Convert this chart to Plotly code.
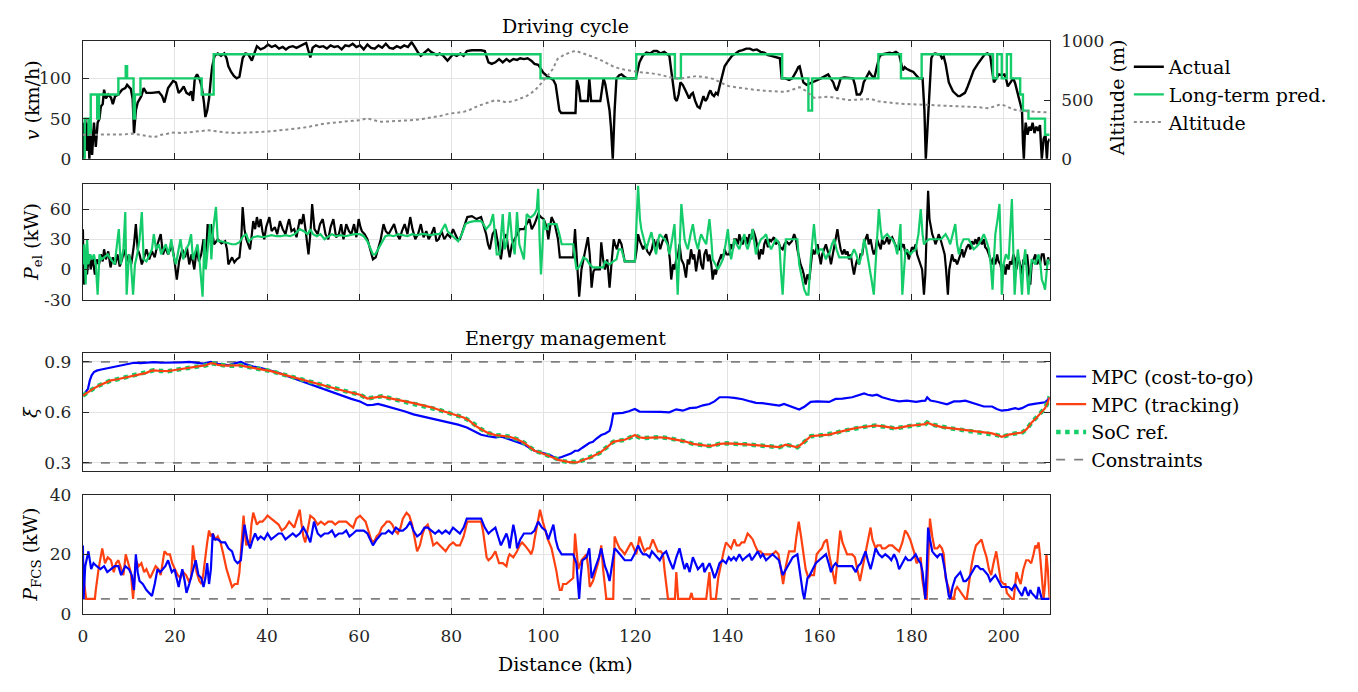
import plotly.graph_objects as go

# ---------------- DATA ----------------
v_act_km = [0,0.2,0.5,0.8,1.1,1.4,1.7,2.0,2.4,2.8,3.2,3.6,3.9,4.3,4.6,5.0,5.5,6.1,6.5,7.0,7.7,8.5,9.2,9.6,10.4,10.8,11.1,11.5,11.9,12.7,13.2,13.8,15.0,16.5,17.2,17.7,18.5,19.6,20.2,20.8,21.3,21.9,22.5,23.1,23.5,23.9,24.3,24.8,25.4,25.8,26.3,26.6,27.0,27.4,27.8,28.1,28.6,29.3,30.0,30.7,31.2,31.6,32.2,32.8,33.4,34.0,34.7,35.3,35.9,36.7,37.3,37.8,38.6,39.4,40.2,41.0,41.8,42.6,43.4,44.1,44.8,45.6,46.4,47.2,48.0,48.5,49.0,49.4,49.9,50.6,51.4,52.2,53.0,53.8,54.6,55.4,56.2,57.0,57.8,58.6,59.4,60.2,61.0,61.8,62.6,63.4,64.2,65.0,65.8,66.6,67.4,68.2,69.0,69.8,70.6,71.4,72.2,72.8,73.4,74.2,75.0,75.6,76.3,76.9,77.5,78.3,79.2,79.8,80.4,81.2,82.0,82.7,83.4,84.5,85.5,86.5,87.3,87.7,88.1,88.8,89.6,90.4,91.2,92.0,92.7,93.5,94.3,95.0,95.8,96.6,97.4,98.1,98.9,99.7,100,100.8,101.5,102.2,102.7,103.2,103.5,103.9,107.0,107.3,107.7,108.1,109.7,110.0,110.4,112.4,113.1,113.5,113.9,114.4,114.7,115.1,115.5,115.9,116.5,117.0,117.6,118.2,120.1,120.9,121.6,122.4,123.2,124.0,124.7,125.5,126.3,127.0,127.4,127.8,128.3,128.6,129.0,129.4,129.8,130.3,130.9,131.3,131.7,132.1,132.5,133.0,133.5,134.0,134.4,134.8,135.2,135.6,136.0,136.3,136.7,137.1,137.5,137.9,138.3,138.7,139.0,139.4,140.2,141.0,141.8,142.5,143.3,144.1,144.9,145.6,146.4,147.2,148.0,148.8,149.5,150.3,151.0,151.4,151.8,152.6,153.4,154.1,154.9,155.4,155.7,156.1,156.5,157.2,158.0,158.8,159.6,160.3,161.1,161.9,162.4,163.0,163.4,163.8,164.2,164.6,165.4,166.5,167.3,167.7,168.1,168.8,169.2,169.6,170.2,170.8,171.3,171.9,172.5,173.1,173.8,174.5,175.2,175.9,176.6,177.3,177.7,178.1,178.5,178.9,179.6,180.4,181.0,181.6,182.4,182.8,183.1,183.5,183.9,184.3,184.7,185.1,185.7,186.2,186.6,187.0,187.4,187.8,188.1,188.5,189.0,189.7,190.1,190.5,191.0,191.6,192.2,192.8,193.5,194.4,195.2,195.9,196.5,197.1,197.5,197.9,198.4,199.0,199.6,200.2,200.6,200.9,201.5,202.1,202.5,202.9,203.5,204.0,204.2,204.4,204.6,204.8,205.2,205.6,205.9,206.3,206.7,207.1,207.5,207.9,208.1,208.3,208.7,209.1,209.3,209.4,209.6,210]
v_act = [45,0,50,10,45,0,40,5,45,15,45,50,65,68,86,75,80,76,68,78,80,86,88,92,87,75,32,60,70,78,88,82,82,83,78,70,88,97,95,82,85,90,82,80,84,72,100,105,98,90,70,52,60,75,100,115,128,131,128,131,125,115,108,103,100,102,125,131,130,122,132,140,136,138,142,139,141,137,139,136,139,140,138,140,143,144,134,126,138,141,139,140,137,141,139,140,136,141,140,143,139,141,136,142,138,137,141,138,143,138,137,140,138,141,139,145,138,132,128,132,136,133,131,129,131,128,122,126,130,128,131,128,134,135,135,135,134,126,120,118,120,124,120,124,121,124,123,125,124,125,122,118,117,110,107,103,100,98,92,75,60,57,57,98,90,72,72,100,72,72,100,92,80,60,40,0,60,100,104,105,102,100,100,120,128,132,131,134,134,131,133,130,128,110,85,75,72,80,95,92,85,80,75,80,82,72,65,63,70,78,72,75,82,85,80,78,82,80,90,100,108,115,122,128,131,134,135,137,137,135,136,133,132,129,128,127,126,125,100,100,98,100,108,114,115,105,95,92,94,95,98,100,103,105,100,95,88,85,92,100,101,100,100,92,80,80,84,95,102,108,104,100,115,128,130,131,132,131,133,130,120,110,114,112,110,108,104,100,100,60,0,40,90,125,130,131,130,130,125,127,118,105,95,90,84,80,78,78,80,82,90,100,110,118,125,130,131,128,110,95,100,105,104,105,98,90,95,100,94,85,75,60,20,0,30,45,30,40,35,45,32,40,35,42,20,0,25,30,10,0,20,25]

v_pred_km = [0,0.4,1.2,1.7,3.1,3.5,7.7,9.3,9.6,11.0,11.3,12.5,25.8,28.4,99.4,120.2,128.6,129.9,151.9,157.6,158.4,172.8,177.7,182.2,197.7,198.6,199.6,200.7,201.6,203.6,204.2,205.4,209.0,210]
v_pred = [0,50,30,80,50,80,100,115,100,50,80,100,80,130,100,130,100,130,100,60,100,130,100,130,100,130,100,130,100,80,60,50,30,30]

alt_km = [0,3,6,9,11,12.3,13.5,15.4,16.5,17.0,18.2,19.3,20.5,21.6,23.0,24.7,26.0,27.0,28.2,29.3,31.0,33.2,35.0,37.0,39.0,40.9,43.0,44.8,46.8,48.6,50.5,52.5,54.5,56.4,58.3,60.2,61.8,63.0,64.9,66.5,68.0,70.0,71.8,73.8,75.7,77.6,79.6,81.2,82.7,84.2,85.8,87.7,89.6,91.0,92.0,93.5,95.0,96.2,97.4,98.6,99.7,101.0,102.0,103.1,104.5,105.8,107.0,108.5,110.0,112.0,113.8,115.5,117.5,120.1,121.5,123.2,125.5,127.5,129.4,131.0,133.3,135.0,137.1,138.5,140.2,141.8,143.3,145.5,148.0,150.0,152.6,154.2,155.7,157.0,158.8,160.3,161.9,164.0,166.5,168.8,171.2,172.7,175.0,177.3,180.0,183.5,186.0,188.9,191.5,194.4,196.7,198.0,199.4,200.8,202.1,204.0,206.0,208.0,210]
alt = [205,205,205,208,215,205,198,185,195,205,212,225,222,220,226,230,238,245,238,230,225,220,222,225,230,235,242,250,260,270,285,300,308,315,322,330,345,330,315,317,320,325,330,340,350,365,385,393,400,420,450,475,500,490,480,492,510,530,560,600,650,710,760,850,885,905,920,900,880,850,815,780,760,740,735,730,715,695,680,690,705,695,680,650,620,610,600,590,580,575,570,590,610,580,520,525,530,515,500,505,510,490,480,470,465,460,455,450,445,440,430,445,465,445,420,408,400,398,395]

pel_act_km = [0,0.2,0.5,0.9,1.3,1.7,2.1,2.6,3.0,3.5,3.9,4.3,4.6,5.0,5.5,6.0,6.5,7.0,7.5,8.0,8.5,9.0,9.5,10.0,10.5,11.1,11.5,11.9,12.3,12.8,13.3,13.8,14.4,15.0,15.6,16.2,16.9,17.4,17.9,18.5,19.0,19.3,19.8,20.4,20.9,21.6,22.2,22.6,23.1,23.6,24.2,24.7,25.2,25.7,26.2,26.7,27.1,27.5,27.8,28.1,28.5,29.3,30.1,30.9,31.3,31.6,32.0,32.4,32.9,33.4,34.0,34.4,34.7,35.1,35.5,35.9,36.3,36.7,37.0,37.4,37.8,38.2,38.6,39.0,39.4,39.8,40.5,41.0,41.7,42.2,42.8,43.4,44.0,44.5,44.8,45.3,45.9,46.4,47.1,47.5,47.9,48.4,49.0,49.4,49.8,50.3,51.0,51.5,52.1,52.7,53.3,53.8,54.4,55.0,55.6,56.1,56.6,57.2,57.8,58.3,58.9,59.4,59.9,60.3,60.6,61.2,61.8,62.4,63.0,63.6,64.1,64.7,65.3,65.8,66.4,67.0,67.6,68.2,68.8,69.3,69.9,70.5,71.1,71.6,72.2,72.8,73.4,74.0,74.6,75.1,75.7,76.3,76.8,77.3,77.9,78.5,79.2,79.8,80.4,80.9,81.4,81.9,82.5,83.0,83.5,84.5,85.5,86.5,87.0,87.6,88.0,88.4,89.0,89.6,90.2,90.8,91.4,92.0,92.4,92.7,93.2,93.8,94.3,94.9,95.8,96.4,97.0,97.5,98.1,98.5,98.9,99.5,100.1,100.5,100.8,101.1,101.5,101.8,102.5,102.9,103.2,103.6,104.3,106.5,106.9,107.3,107.8,108.3,108.7,109.2,109.7,110.1,110.5,110.9,111.2,112.3,112.6,113.0,113.4,113.9,114.4,114.9,115.3,115.6,116.0,116.5,117.0,117.4,117.7,118.8,119.9,120.3,120.6,121.0,121.3,121.7,122.2,122.6,123.1,123.6,124.0,124.5,124.9,125.4,125.9,126.3,126.7,127.1,127.5,127.8,128.2,128.5,128.9,129.3,129.6,130.0,130.5,131.0,131.4,131.7,132.1,132.5,132.8,133.2,133.6,133.9,134.3,134.7,135.0,135.4,135.8,136.1,136.5,136.8,137.2,137.5,137.9,138.3,138.7,139.0,139.4,139.8,140.4,140.8,141.2,141.5,141.9,142.3,142.6,143.0,143.3,143.7,144.1,144.4,144.8,145.2,145.5,145.9,146.2,146.6,146.9,147.3,147.7,148.0,148.4,148.8,149.1,149.5,150.1,150.5,151.0,151.5,152.0,152.4,152.8,153.4,154.0,154.5,154.9,155.2,155.6,155.9,156.3,156.6,157.0,157.4,157.8,158.1,158.5,158.9,159.2,159.6,159.9,160.3,160.6,161.0,161.4,161.8,162.1,162.5,162.9,163.2,163.5,163.9,164.2,164.6,165.0,165.4,165.7,166.1,166.4,166.8,167.1,167.5,167.9,168.2,168.6,168.9,169.3,169.6,170.0,170.4,170.7,171.1,171.5,171.8,172.2,172.5,172.9,173.3,173.6,174.0,174.4,174.7,175.1,175.4,175.8,176.2,176.5,176.9,177.3,177.6,178.0,178.3,178.7,179.0,179.4,179.8,180.1,180.5,180.9,181.2,181.6,181.9,182.3,182.7,183.0,183.3,183.6,183.9,184.2,184.5,184.9,185.2,185.6,185.9,186.3,186.6,187.0,187.2,187.5,187.9,188.2,188.5,188.8,189.2,189.5,189.9,190.3,190.6,191.0,191.3,191.7,192.0,192.4,192.8,193.1,193.5,193.9,194.2,194.6,194.9,195.3,195.7,196.0,196.4,196.8,197.1,197.5,197.8,198.2,198.6,198.9,199.3,199.6,200.0,200.4,200.7,201.1,201.4,201.8,202.1,202.5,202.8,203.2,203.6,204.0,204.3,204.7,205.1,205.4,205.8,206.1,206.5,206.9,207.2,207.6,207.9,208.3,208.7,209.0,209.4,209.7,210]
pel_act = [40,-15,10,-5,15,0,12,-5,10,5,15,8,20,10,18,2,12,5,15,3,10,20,8,15,5,25,45,20,15,5,12,20,10,18,12,25,35,15,22,15,20,25,12,-10,8,20,12,22,5,15,0,20,8,15,30,10,45,30,45,35,25,30,26,28,20,5,8,12,7,10,12,30,62,40,30,25,20,35,48,40,52,42,50,38,30,42,52,38,42,35,48,40,35,45,50,38,40,32,50,45,55,38,15,35,65,40,35,45,50,35,30,42,50,32,35,45,30,45,38,35,45,32,50,42,38,35,30,20,10,12,20,30,45,38,35,40,45,35,30,38,45,35,52,40,30,35,45,32,38,30,35,42,28,30,38,30,35,32,40,35,30,30,38,45,52,53,50,52,45,35,25,20,35,40,25,10,30,35,20,12,25,30,35,40,40,45,50,40,45,50,55,52,50,45,40,30,42,52,45,38,30,12,12,12,40,10,-27,0,10,20,32,15,-18,-2,0,0,27,10,0,10,-18,10,30,25,20,30,25,15,8,8,8,20,35,28,25,20,25,18,15,20,30,22,30,20,28,32,35,25,10,-10,5,0,10,15,25,10,5,-8,10,5,20,10,15,-2,10,20,5,0,15,20,8,15,5,-10,0,-5,5,10,15,10,20,15,15,25,20,30,30,25,35,28,25,30,32,25,35,30,40,35,30,20,10,20,15,25,30,22,30,28,32,25,28,22,20,25,28,25,28,35,30,20,10,5,0,-5,-15,-5,-10,5,20,15,20,25,15,5,15,20,25,18,15,5,15,20,30,40,30,20,15,20,15,18,10,15,5,-5,5,10,5,15,15,25,30,35,25,30,20,15,20,30,25,20,30,25,28,32,25,30,32,28,25,20,20,28,22,25,15,20,10,18,22,20,25,15,10,5,0,-25,-5,40,78,50,40,35,30,25,30,35,30,25,20,15,0,-25,0,10,15,8,10,5,10,15,20,12,18,22,25,20,28,25,30,25,32,28,25,30,22,20,15,10,5,12,5,15,8,5,-2,5,-5,5,0,8,5,15,10,0,12,5,-5,10,5,15,0,-15,5,10,15,5,10,5,15,15,5,5,12,8]

pel_pred_km = [0,0.3,0.6,0.9,1.2,1.6,2.0,2.4,2.8,3.2,3.6,4.0,4.6,5.4,6.1,6.9,7.4,7.8,8.2,8.8,9.2,9.5,10.0,10.4,10.9,11.3,11.8,12.3,12.8,13.2,13.8,14.5,15.0,15.4,15.9,16.5,17.0,17.5,18.0,18.6,19.2,19.6,20.2,20.8,21.2,21.8,22.4,23.0,23.5,23.9,24.5,24.9,25.4,26.0,26.4,26.7,27.1,27.6,27.9,28.3,28.9,29.3,30.0,30.9,31.6,32.4,33.2,34.0,34.8,35.5,36.0,36.6,37.0,38.0,39.0,40.0,41.0,42.0,43.0,44.0,45.0,46.0,47.1,48.0,48.8,49.4,50.0,50.8,51.6,52.5,53.2,54.1,55.0,56.0,57.0,58.0,59.0,60.2,61.0,61.8,62.5,63.0,63.5,64.1,65.0,65.7,66.5,67.5,68.5,69.5,70.5,71.5,72.5,73.5,74.5,75.5,76.5,77.5,77.9,78.7,79.2,79.9,80.7,81.5,82.3,83.1,84.0,85.0,86.5,87.0,87.6,88.5,89.1,89.5,89.9,90.5,91.2,91.6,92.0,92.7,93.2,93.8,94.3,94.8,95.4,95.8,96.4,97.0,97.4,98.1,98.6,98.9,99.2,99.5,99.8,100.1,100.5,100.9,101.1,101.8,102.9,103.5,104.0,106.5,107.2,107.9,108.7,109.4,110.1,110.8,113.0,113.4,114.4,115.2,115.9,116.4,117.0,117.7,118.4,119.9,120.6,121.0,121.3,122.0,122.4,123.0,123.5,124.0,124.5,125.0,125.3,125.9,126.4,127.0,127.4,128.0,128.5,128.9,129.2,129.6,130.0,130.3,130.7,131.0,131.4,132.0,132.5,133.0,133.6,134.0,134.3,134.8,135.4,135.8,136.1,136.5,136.8,137.4,137.9,138.5,139.0,139.6,140.1,140.5,140.8,141.2,141.5,142.0,142.6,143.1,143.7,144.0,144.4,145.0,145.5,145.9,146.2,146.8,147.3,147.9,148.4,149.0,149.5,150.0,150.5,150.9,151.3,151.6,152.0,152.4,152.7,153.8,155.2,155.6,156.2,156.7,157.2,157.6,158.1,158.5,158.8,159.2,159.6,160.1,160.6,161.0,161.4,161.8,162.1,162.7,163.2,163.7,164.3,166.8,167.5,168.0,168.6,169.2,169.7,170.2,170.8,171.3,171.8,172.4,172.9,173.3,173.6,174.2,174.7,175.2,175.8,176.4,176.9,177.3,177.6,178.0,178.4,178.7,179.2,179.8,180.3,180.9,181.5,182.0,182.4,182.7,183.2,183.8,185.0,186.4,187.4,188.0,188.4,189.0,189.5,189.9,190.3,190.8,191.3,192.4,193.0,193.5,194.0,194.6,195.2,195.7,196.3,196.8,197.2,197.6,197.9,198.2,198.7,199.1,199.4,199.6,200.0,200.5,201.1,201.5,201.8,202.1,202.4,202.8,203.1,203.6,204.0,204.3,204.7,205.0,205.4,205.8,206.1,206.5,206.9,207.2,207.6,208.0,208.3,208.7,209.0,209.3,209.6,210]
pel_pred = [5,25,-15,30,5,15,10,15,5,-25,15,10,12,15,10,5,25,40,5,20,57,-25,15,8,-25,5,15,30,57,10,8,15,20,35,20,25,15,20,25,15,30,15,5,20,30,10,20,25,35,10,20,25,5,-27,30,0,20,45,10,40,62,28,28,27,26,25,25,27,33,35,28,30,32,33,32,33,34,33,33,34,33,35,40,38,35,40,35,33,35,30,32,35,33,34,33,34,35,35,33,28,20,15,15,20,28,33,34,33,35,34,33,35,34,35,35,34,35,35,38,45,38,35,32,28,35,45,47,48,48,45,40,45,55,30,15,15,55,20,25,57,30,15,57,25,15,10,55,52,52,55,60,80,30,-5,20,50,40,40,45,45,45,35,25,25,0,3,12,10,5,2,2,8,5,8,10,20,20,8,8,8,83,50,40,25,20,30,37,25,15,30,35,32,30,25,15,30,45,10,-25,20,65,50,30,25,20,35,45,30,20,30,35,30,25,40,50,30,10,5,0,5,10,25,40,20,10,20,30,25,20,28,35,25,20,30,40,25,15,25,30,32,35,25,20,25,30,28,25,0,-25,10,30,30,30,5,-10,-20,-25,-25,10,30,45,25,15,20,20,15,10,15,15,25,30,20,12,12,20,15,5,15,30,20,5,-10,-25,20,60,40,30,33,35,32,30,25,15,30,45,-25,5,20,18,15,18,20,35,60,35,25,28,30,30,30,35,30,25,35,45,25,15,25,30,30,25,20,22,25,30,35,28,20,5,-20,10,35,50,65,20,-25,5,15,10,40,70,20,-25,5,20,0,-25,5,20,0,-25,-5,10,8,5,10,15,5,-10,-15,-20,-5,10,5]

xi_cg_km = [0,0.6,1.1,1.5,1.9,2.4,3.0,4.0,5.3,6.5,7.7,9.0,10.0,11.1,12.5,14.0,15.4,17.0,18.5,20.0,21.5,23.1,24.5,26.2,27.8,29.3,30.5,31.6,32.8,34.3,35.5,37.0,38.5,40.1,42.5,44.8,46.5,48.6,50.5,52.5,54.5,56.4,58.3,60.2,61.8,63.0,64.1,65.5,68.0,70.0,71.8,73.5,75.7,77.5,79.6,81.5,83.4,85.0,86.5,88.0,89.6,91.0,92.7,94.0,95.8,97.0,98.1,99.3,100.5,101.4,102.0,103.0,104.0,105.1,106.0,106.9,107.6,108.5,109.4,110.0,110.8,111.5,112.6,113.5,114.4,114.8,115.2,116.0,117.3,118.6,119.9,120.9,122.0,123.8,125.5,127.4,128.2,128.9,130.3,131.8,133.2,134.7,136.1,137.2,138.3,139.2,140.1,141.5,143.3,145.0,146.2,147.5,149.1,151.3,152.3,154.0,155.6,156.8,158.1,159.5,161.0,162.1,163.5,165.0,167.1,168.5,169.7,170.5,171.5,172.5,173.6,175.5,177.3,179.0,181.0,182.3,183.0,183.4,184.1,185.5,186.7,187.7,189.2,190.5,191.7,193.0,194.5,195.7,197.5,198.5,199.6,201.0,202.5,203.2,204.0,205.4,207.0,208.3,209.0,209.6,210.0]
xi_cg = [0.70,0.72,0.74,0.79,0.82,0.84,0.848,0.855,0.862,0.868,0.875,0.88,0.885,0.895,0.893,0.897,0.899,0.895,0.896,0.893,0.897,0.9,0.895,0.89,0.9,0.888,0.885,0.88,0.89,0.9,0.885,0.872,0.865,0.854,0.835,0.812,0.795,0.775,0.755,0.735,0.715,0.695,0.68,0.665,0.643,0.645,0.65,0.64,0.623,0.605,0.588,0.578,0.562,0.555,0.542,0.527,0.51,0.49,0.467,0.458,0.452,0.455,0.44,0.43,0.41,0.39,0.372,0.362,0.352,0.348,0.338,0.327,0.335,0.345,0.355,0.372,0.372,0.39,0.408,0.418,0.425,0.443,0.465,0.475,0.49,0.53,0.593,0.593,0.597,0.607,0.62,0.605,0.605,0.605,0.603,0.6,0.608,0.618,0.61,0.625,0.628,0.642,0.65,0.665,0.69,0.692,0.69,0.686,0.678,0.665,0.657,0.655,0.65,0.64,0.65,0.632,0.617,0.635,0.663,0.665,0.663,0.662,0.68,0.682,0.69,0.7,0.712,0.705,0.7,0.705,0.69,0.675,0.665,0.67,0.663,0.668,0.67,0.69,0.67,0.663,0.655,0.648,0.665,0.665,0.67,0.66,0.648,0.635,0.635,0.62,0.61,0.615,0.625,0.62,0.625,0.645,0.652,0.655,0.66,0.675,0.69]

xi_tr_km = [0,1.0,2.2,3.5,4.8,6.1,7.5,8.8,10.0,11.3,12.5,13.8,14.6,15.4,17.0,18.5,20.0,21.6,23.5,25.4,26.8,27.8,28.5,29.3,31.0,32.5,34.0,35.5,37.0,39.0,40.9,42.8,44.8,46.7,48.6,50.5,52.5,54.5,56.4,58.3,60.2,61.8,63.5,64.9,66.5,68.0,70.0,71.8,73.8,75.7,77.6,79.6,81.2,82.7,84.0,85.3,86.5,88.0,89.6,91.2,92.7,94.3,95.8,97.0,98.1,99.3,100.5,101.4,102.2,103.2,104.3,105.4,106.5,107.6,108.8,110.1,111.2,112.3,113.7,115.2,116.5,117.7,118.8,119.9,120.8,121.7,123.5,125.3,127.1,128.9,130.7,132.5,134.3,136.1,137.2,138.3,140.1,141.9,144.0,146.2,148.7,151.3,152.7,154.0,155.2,156.5,158.1,160.0,162.1,163.5,165.0,166.8,168.6,170.4,172.2,174.3,176.5,178.0,179.4,181.2,183.0,183.4,184.5,186.6,188.5,190.3,192.1,193.9,195.7,197.5,198.6,199.6,201.1,202.5,204.0,205.0,206.1,207.2,208.3,209.0,209.6,210.0]
xi_tr = [0.70,0.72,0.74,0.76,0.775,0.79,0.797,0.805,0.81,0.82,0.828,0.835,0.845,0.85,0.846,0.845,0.852,0.86,0.868,0.875,0.88,0.893,0.89,0.882,0.878,0.877,0.88,0.872,0.865,0.855,0.845,0.83,0.815,0.8,0.785,0.77,0.755,0.742,0.73,0.717,0.705,0.682,0.69,0.695,0.685,0.675,0.665,0.655,0.643,0.63,0.613,0.595,0.582,0.57,0.55,0.52,0.5,0.478,0.465,0.462,0.455,0.44,0.42,0.395,0.372,0.362,0.35,0.34,0.33,0.318,0.31,0.306,0.303,0.305,0.318,0.33,0.345,0.36,0.39,0.425,0.432,0.437,0.45,0.465,0.452,0.448,0.45,0.452,0.447,0.438,0.428,0.413,0.408,0.4,0.405,0.413,0.416,0.415,0.41,0.405,0.4,0.393,0.408,0.4,0.393,0.42,0.458,0.463,0.468,0.478,0.49,0.5,0.51,0.517,0.522,0.515,0.505,0.512,0.52,0.525,0.53,0.54,0.527,0.512,0.505,0.498,0.492,0.485,0.48,0.475,0.465,0.455,0.468,0.475,0.48,0.5,0.54,0.57,0.6,0.625,0.66,0.69]
soc_ref = [0.70,0.72,0.74,0.76,0.775,0.79,0.797,0.805,0.81,0.82,0.828,0.835,0.845,0.85,0.846,0.845,0.852,0.86,0.868,0.875,0.88,0.893,0.89,0.882,0.878,0.877,0.88,0.872,0.865,0.855,0.845,0.83,0.815,0.8,0.785,0.77,0.755,0.742,0.73,0.717,0.705,0.682,0.69,0.695,0.685,0.675,0.665,0.655,0.643,0.63,0.613,0.595,0.582,0.57,0.55,0.52,0.5,0.478,0.465,0.462,0.455,0.44,0.42,0.395,0.372,0.362,0.35,0.34,0.33,0.318,0.31,0.306,0.303,0.305,0.318,0.33,0.345,0.36,0.39,0.425,0.432,0.437,0.45,0.465,0.452,0.448,0.45,0.452,0.447,0.438,0.428,0.413,0.408,0.4,0.405,0.413,0.416,0.415,0.41,0.405,0.4,0.393,0.408,0.4,0.393,0.42,0.458,0.463,0.468,0.478,0.49,0.5,0.51,0.517,0.522,0.515,0.505,0.512,0.52,0.525,0.53,0.54,0.527,0.512,0.505,0.498,0.492,0.485,0.48,0.475,0.465,0.455,0.468,0.475,0.48,0.5,0.54,0.57,0.6,0.625,0.66,0.695]
xi_limits = [0.3, 0.9]

fcs_cg_km = [0,0.15,0.5,1.2,1.8,2.3,3.0,3.8,4.6,5.3,6.1,6.9,7.7,8.3,9.2,10.0,10.6,11.1,11.5,11.9,12.3,13.0,13.8,14.4,15.0,15.6,16.2,16.8,17.3,17.9,18.5,18.9,19.3,19.9,20.4,20.8,21.3,21.6,22.1,22.5,23.1,23.9,24.5,25.1,25.7,26.2,26.6,27.0,27.4,27.8,28.2,28.6,29.3,30.1,30.9,31.6,32.4,33.0,33.6,34.3,34.7,35.1,35.7,36.3,36.9,37.4,38.0,38.6,39.4,40.1,40.9,41.7,42.5,43.2,44.0,44.8,45.6,46.3,47.1,47.9,48.6,49.4,50.2,51.0,51.7,52.5,53.3,54.1,54.8,55.6,56.4,57.2,57.9,58.7,59.4,60.2,61.0,61.8,62.4,63.0,63.8,64.9,65.7,66.4,67.2,68.0,68.8,69.5,70.3,71.1,71.8,72.6,73.4,74.2,74.9,75.7,76.5,77.3,78.0,78.8,79.6,80.4,81.1,81.9,82.7,83.4,85.0,86.5,87.3,88.1,88.8,89.6,90.2,90.8,91.4,92.0,92.4,92.7,93.1,93.5,94.0,94.3,95.0,95.8,96.6,97.4,98.1,98.9,99.7,100.5,101.1,101.6,102.2,102.7,103.2,104.0,105.0,106.5,107.2,107.5,107.8,108.1,108.5,109.4,110.0,110.5,111.0,111.6,112.1,112.6,113.0,113.4,113.9,114.4,115.0,115.5,116.1,116.6,117.2,117.7,118.4,119.1,119.8,120.6,121.2,121.7,122.4,123.1,123.6,124.2,124.7,125.3,126.0,126.7,127.4,128.2,128.9,129.6,130.2,130.7,131.2,131.8,132.5,133.0,133.6,134.2,134.7,135.0,135.4,136.1,136.6,137.2,137.7,138.3,139.0,139.7,140.3,140.8,141.4,141.9,142.6,143.3,144.0,144.8,145.3,145.8,146.6,147.2,147.7,148.4,149.1,149.8,150.5,151.2,152.0,152.7,153.4,154.2,155.2,155.6,156.0,156.4,156.7,157.1,157.4,157.9,158.5,159.2,159.9,160.6,161.4,162.0,162.5,163.0,163.5,164.0,164.6,165.5,166.5,167.1,167.5,167.9,168.4,169.0,169.5,170.0,170.5,171.1,171.6,172.2,172.9,173.6,174.3,175.1,175.6,176.2,176.8,177.3,178.0,178.7,179.2,179.8,180.4,180.9,181.5,182.0,182.4,182.7,183.0,183.3,183.6,184.0,184.5,185.0,185.6,186.1,186.6,187.2,187.7,188.1,188.4,188.9,189.5,190.0,190.6,191.3,191.8,192.4,193.1,193.9,194.4,195.0,195.5,196.0,196.6,197.1,197.6,198.2,198.9,199.6,200.3,201.1,201.8,202.5,203.2,203.6,204.0,204.4,204.7,205.1,205.4,205.8,206.1,206.7,207.2,207.6,208.0,208.3,209.0,209.6,210]
fcs_cg = [23,5,16,21,15,17,16,15,16,14,15,16,16,13,16,15,13,8,20,14,11,10,8,7,6,10,15,14,15,16,18,16,14,15,12,9,13,15,11,7,10,15,18,13,12,9,12,17,10,15,27,25,25,24,24,22,21,18,17,18,24,30,25,22,25,27,25,26,25,27,25,26,27,27,25,26,27,26,27,29,27,24,31,27,26,27,27,28,26,27,27,28,26,27,28,28,28,27,25,23,25,27,27,28,27,29,28,28,29,31,28,26,27,29,29,28,27,28,27,28,27,29,28,27,29,32,32,32,29,27,28,29,26,23,25,27,25,22,26,30,26,22,25,27,27,27,28,31,29,28,25,27,30,25,22,20,20,20,17,10,5,12,18,19,22,12,14,17,19,22,19,16,14,11,17,22,21,20,19,18,18,18,20,23,21,20,20,19,21,20,19,18,20,21,18,15,19,22,18,15,17,14,19,17,15,16,17,14,15,17,15,12,14,17,18,17,19,18,19,18,20,18,19,20,18,19,21,19,20,18,19,20,19,18,13,15,17,19,20,15,10,7,5,9,12,13,15,17,18,19,20,17,14,16,17,16,16,16,16,16,15,14,16,17,19,21,18,15,18,22,20,19,20,19,18,20,18,15,17,19,18,18,19,20,18,17,14,10,5,15,29,25,21,20,19,20,20,15,9,6,5,9,12,13,14,11,11,12,14,16,16,15,15,14,13,11,12,13,11,9,9,9,8,10,8,7,6,8,9,7,6,8,7,6,5,9,7,5,5,5,5]

fcs_tr_km = [0,0.3,0.7,1.5,2.6,2.8,3.4,4.2,4.8,5.4,6.1,6.7,7.2,7.7,8.3,8.8,9.3,9.8,10.4,10.9,11.5,12.1,12.7,13.3,13.8,14.6,15.2,15.8,16.4,16.9,17.3,17.7,18.3,18.9,19.4,20.0,20.6,21.2,21.8,22.4,23.0,23.5,23.9,24.3,24.7,25.3,25.8,26.2,26.6,27.0,27.4,27.8,28.2,28.8,29.3,29.9,30.5,30.9,31.2,31.8,32.4,33.0,33.6,34.0,34.3,34.6,34.9,35.2,35.5,36.0,36.3,36.6,37.0,37.4,37.8,38.4,39.0,39.6,40.1,40.9,41.7,42.5,43.2,44.0,44.8,45.3,45.9,46.5,47.1,47.5,47.9,48.3,48.8,49.4,50.2,51.0,51.7,52.5,53.3,54.1,54.8,55.6,56.4,57.2,57.9,58.7,59.4,60.2,60.8,61.4,62.0,62.6,63.2,63.8,64.4,64.9,65.5,66.0,66.6,67.2,67.8,68.4,69.0,69.5,70.3,70.9,71.5,72.0,72.6,73.2,73.8,74.3,74.9,75.5,76.1,76.9,77.6,78.2,78.8,79.6,80.4,81.1,81.9,82.7,83.5,85.0,86.5,86.9,87.3,87.7,88.1,88.8,89.6,90.0,90.4,91.2,92.0,92.4,92.7,93.5,94.3,94.9,95.4,96.0,96.6,97.0,97.4,97.8,98.1,98.7,99.3,99.9,100.5,101.0,101.8,102.4,102.9,103.2,103.6,104.0,104.3,105.0,105.8,106.5,106.9,107.3,107.6,108.3,108.9,109.4,109.8,110.1,110.8,111.4,111.9,112.3,112.6,113.0,113.4,113.7,115.2,115.5,116.0,116.6,117.2,117.7,118.4,119.1,119.7,120.2,120.6,120.9,121.5,122.0,122.6,123.1,123.8,124.4,124.9,125.5,126.0,126.4,126.8,127.1,128.6,128.9,129.3,131.8,132.2,132.5,135.4,135.7,136.1,136.4,137.5,138.0,138.6,139.2,139.7,140.2,140.8,141.5,142.0,142.6,143.1,143.7,144.1,144.4,145.0,145.5,146.0,146.6,147.2,147.7,148.4,149.1,149.8,150.5,151.1,151.6,152.1,152.7,153.4,154.2,154.6,155.0,155.5,156.0,156.5,157.0,157.6,158.1,158.8,159.4,159.9,160.5,161.0,161.6,162.1,162.8,163.4,163.9,164.5,165.0,166.0,167.1,167.7,168.2,168.8,169.3,170.0,170.6,171.1,171.5,172.2,172.6,173.3,173.6,174.3,175.1,175.8,176.5,177.3,178.0,178.6,179.1,179.7,180.5,181.1,181.6,182.0,182.3,183.0,183.3,183.6,184.0,184.5,185.0,185.6,186.1,186.6,187.0,187.4,188.8,189.2,189.5,189.9,191.7,192.0,192.4,193.0,193.5,194.0,194.6,195.2,195.7,196.3,196.8,197.3,197.8,198.4,198.9,199.4,200.0,200.4,200.7,201.8,202.2,202.5,202.8,203.2,203.7,204.3,204.9,205.4,206.0,206.5,206.9,207.2,207.6,207.9,208.2,208.4,208.7,209.0,209.3,209.6,210]
fcs_tr = [18,10,5,5,5,8,15,22,17,19,18,14,17,18,15,13,20,17,14,5,18,16,17,14,15,12,14,16,15,13,17,21,20,20,17,15,13,12,14,13,11,12,23,18,14,11,10,14,20,24,28,26,27,25,26,24,20,17,15,12,9,10,10,14,20,29,33,27,23,24,24,30,34,32,30,31,31,32,33,32,31,30,28,29,31,30,29,32,35,30,26,24,28,33,32,30,31,30,31,31,30,31,31,31,30,29,32,33,32,31,28,25,24,26,27,29,30,31,31,30,28,27,29,32,34,33,30,26,21,23,27,29,30,27,23,24,23,22,21,23,24,23,23,26,31,31,31,28,23,19,18,19,21,19,17,17,16,19,20,19,21,23,24,23,22,21,20,22,25,30,35,31,28,25,22,18,14,11,8,8,10,10,11,12,27,20,15,18,19,20,15,9,11,14,17,20,23,15,9,5,5,26,24,22,21,20,22,24,22,20,23,26,23,21,22,22,25,23,21,21,20,14,8,5,5,14,5,5,7,5,5,9,14,5,5,12,17,21,24,23,22,25,23,23,24,24,26,27,26,25,23,21,21,20,20,20,20,21,20,15,10,16,21,21,21,26,31,26,20,15,12,13,13,20,21,22,24,25,20,15,10,18,28,24,20,20,19,15,11,15,20,25,29,25,22,23,23,22,22,23,23,22,21,24,28,27,25,21,17,18,19,12,5,5,20,32,26,22,22,23,22,20,12,5,5,8,9,5,5,10,16,20,23,24,25,22,19,15,13,17,21,16,11,10,10,7,5,5,10,14,12,10,15,18,18,17,20,23,22,24,20,15,9,5,10,20,15,5,5]
fcs_min = 5

x_ticks = [0, 20, 40, 60, 80, 100, 120, 140, 160, 180, 200]
x_range = [0, 210]

# ---------------- FIGURE ----------------
W, H = 1358, 692
FONT = "DejaVu Serif"
BLACK = "#000000"
GREEN = "#14cc6a"
BLUE = "#0000ff"
ORANGE = "#ff4010"
GREY = "#808080"
AXC = "#262626"
GRID = "#e3e3e3"

def px(x):
    return x / W

def py(y):
    return 1 - y / H

XD = [px(78.2), px(1048.5)]
D1 = [py(153.3), py(32.3)]
D2 = [py(298.3), py(179.0)]
D3 = [py(475.0), py(353.7)]
D4 = [py(621.7), py(499.3)]

fig = go.Figure()

fig.add_trace(go.Scatter(x=v_act_km, y=v_act, mode="lines", name="Actual",
                         line=dict(color=BLACK, width=2.4), xaxis="x", yaxis="y",
                         legend="legend", legendrank=1))
fig.add_trace(go.Scatter(x=v_pred_km, y=v_pred, mode="lines", name="Long-term pred.",
                         line=dict(color=GREEN, width=2.4, shape="hv"), xaxis="x", yaxis="y",
                         legend="legend", legendrank=2))
fig.add_trace(go.Scatter(x=alt_km, y=alt, mode="lines", name="Altitude",
                         line=dict(color="#8c8c8c", width=2, dash="dot"), xaxis="x", yaxis="y5",
                         legend="legend", legendrank=3))

fig.add_trace(go.Scatter(x=pel_act_km, y=pel_act, mode="lines", showlegend=False,
                         line=dict(color=BLACK, width=2.2), xaxis="x2", yaxis="y2"))
fig.add_trace(go.Scatter(x=pel_pred_km, y=pel_pred, mode="lines", showlegend=False,
                         line=dict(color=GREEN, width=2.2), xaxis="x2", yaxis="y2"))

fig.add_trace(go.Scatter(x=x_range, y=[xi_limits[0]] * 2, mode="lines", name="Constraints",
                         line=dict(color=GREY, width=1.6, dash="dash"), xaxis="x3", yaxis="y3",
                         legend="legend2", legendrank=4))
fig.add_trace(go.Scatter(x=x_range, y=[xi_limits[1]] * 2, mode="lines", showlegend=False,
                         line=dict(color=GREY, width=1.6, dash="dash"), xaxis="x3", yaxis="y3"))
fig.add_trace(go.Scatter(x=xi_cg_km, y=xi_cg, mode="lines", name="MPC (cost-to-go)",
                         line=dict(color=BLUE, width=2.2), xaxis="x3", yaxis="y3",
                         legend="legend2", legendrank=1))
fig.add_trace(go.Scatter(x=xi_tr_km, y=soc_ref, mode="lines", name="SoC ref.",
                         line=dict(color=GREEN, width=4.5, dash="dot"), xaxis="x3", yaxis="y3",
                         legend="legend2", legendrank=3))
fig.add_trace(go.Scatter(x=xi_tr_km, y=xi_tr, mode="lines", name="MPC (tracking)",
                         line=dict(color=ORANGE, width=2.2), xaxis="x3", yaxis="y3",
                         legend="legend2", legendrank=2))

fig.add_trace(go.Scatter(x=x_range, y=[fcs_min] * 2, mode="lines", showlegend=False,
                         line=dict(color=GREY, width=1.6, dash="dash"), xaxis="x4", yaxis="y4"))
fig.add_trace(go.Scatter(x=fcs_tr_km, y=fcs_tr, mode="lines", showlegend=False,
                         line=dict(color=ORANGE, width=2.2), xaxis="x4", yaxis="y4"))
fig.add_trace(go.Scatter(x=fcs_cg_km, y=fcs_cg, mode="lines", showlegend=False,
                         line=dict(color=BLUE, width=2.2), xaxis="x4", yaxis="y4"))

tickfont = dict(family=FONT, size=17, color=AXC)

def xax(anchor, labels):
    return dict(domain=XD, anchor=anchor, range=x_range, tickvals=x_ticks,
                showticklabels=labels, ticks="inside", ticklen=6, tickcolor=AXC,
                mirror="ticks", showline=True, linecolor=AXC, linewidth=1.2,
                showgrid=True, gridcolor=GRID, gridwidth=1, zeroline=False,
                tickfont=tickfont, ticklabelstandoff=7)

def yax(domain, anchor, rng, vals, texts, mirror="ticks"):
    return dict(domain=domain, anchor=anchor, range=rng, tickvals=vals, ticktext=texts,
                ticks="inside", ticklen=6, tickcolor=AXC, mirror=mirror,
                showline=True, linecolor=AXC, linewidth=1.2,
                showgrid=True, gridcolor=GRID, gridwidth=1, zeroline=False,
                tickfont=tickfont, ticklabelstandoff=7)

legend_font = dict(family=FONT, size=19, color="#000000")

fig.update_layout(
    width=W, height=H,
    margin=dict(l=0, r=0, t=0, b=0),
    paper_bgcolor="white", plot_bgcolor="white",
    font=dict(family=FONT, size=19, color="#000000"),
    xaxis=xax("y", False),
    yaxis=yax(D1, "x", [0, 146], [0, 50, 100], ["0", "50", "100"], mirror=False),
    yaxis5=dict(overlaying="y", side="right", anchor="x", range=[0, 1000],
                tickvals=[0, 500, 1000], ticktext=["0", "500", "1000"],
                ticks="inside", ticklen=6, tickcolor=AXC, showline=True, linecolor=AXC,
                linewidth=1.2, showgrid=False, zeroline=False, tickfont=tickfont,
                ticklabelstandoff=7),
    xaxis2=xax("y2", False),
    yaxis2=yax(D2, "x2", [-30, 85], [-30, 0, 30, 60], ["-30", "0", "30", "60"]),
    xaxis3=xax("y3", False),
    yaxis3=yax(D3, "x3", [0.25, 0.95], [0.3, 0.6, 0.9], ["0.3", "0.6", "0.9"]),
    xaxis4=xax("y4", True),
    yaxis4=yax(D4, "x4", [0, 40], [0, 20, 40], ["0", "20", "40"]),
    legend=dict(x=px(1128), y=py(39), xanchor="left", yanchor="top",
                font=legend_font, bgcolor="rgba(0,0,0,0)", borderwidth=0,
                tracegroupgap=0, itemwidth=30),
    legend2=dict(x=px(1050), y=py(358), xanchor="left", yanchor="top",
                 font=legend_font, bgcolor="rgba(0,0,0,0)", borderwidth=0,
                 tracegroupgap=0, itemwidth=30),
    showlegend=True,
)

title_font = dict(family=FONT, size=19, color="#000000")
ann = [
    dict(text="Driving cycle", x=px(563), y=py(16), xanchor="center", yanchor="middle"),
    dict(text="Energy management", x=px(563), y=py(338), xanchor="center", yanchor="middle"),
    dict(text="Distance (km)", x=px(563), y=py(673), xanchor="center", yanchor="middle"),
    dict(text="<i>v</i> (km/h)", x=px(27), y=py(93), xanchor="center", yanchor="middle", textangle=-90),
    dict(text="<i>P</i><sub>el</sub> (kW)", x=px(27), y=py(239), xanchor="center", yanchor="middle", textangle=-90),
    dict(text="<i>ξ</i>", x=px(25), y=py(414), xanchor="center", yanchor="middle", textangle=-90),
    dict(text="<i>P</i><sub>FCS</sub> (kW)", x=px(27), y=py(561), xanchor="center", yanchor="middle", textangle=-90),
    dict(text="Altitude (m)", x=px(1117), y=py(90), xanchor="center", yanchor="middle", textangle=-90),
]
for a in ann:
    a.update(xref="paper", yref="paper", showarrow=False, font=title_font)
fig.update_layout(annotations=ann)

fig.write_html("out.html")
